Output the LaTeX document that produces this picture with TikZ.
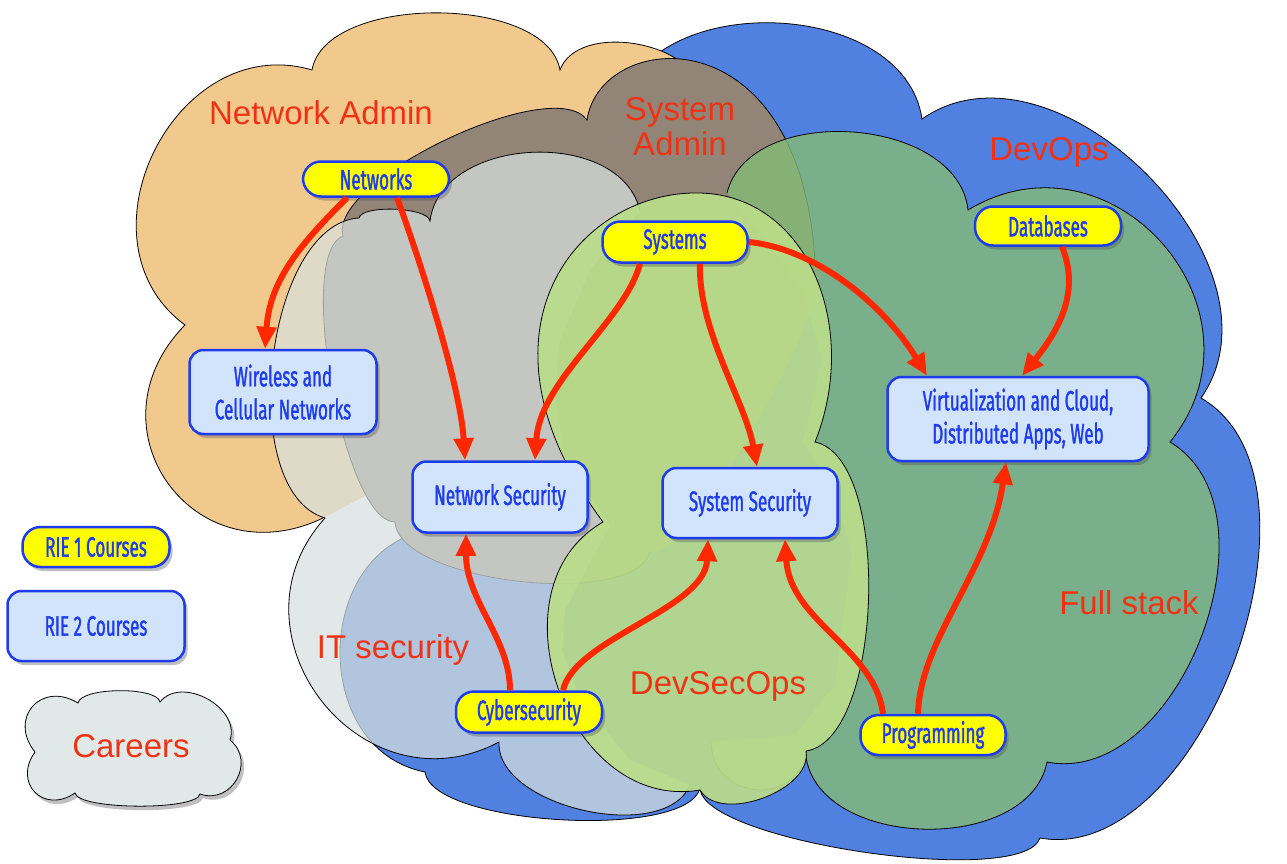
\documentclass[tikz,border=0pt]{standalone}
\usepackage{fontspec}
\usepackage{tikz}
\usetikzlibrary{arrows.meta,shadows}
\newfontfamily\coursefont{Fira Sans}[FakeStretch=0.61,FakeBold=1.2]
\newfontfamily\careerfont{Liberation Sans}
\definecolor{rieblue}{RGB}{30,60,235}
\definecolor{boxblue}{RGB}{210,228,252}
\definecolor{rieyellow}{RGB}{255,255,0}
\definecolor{careerred}{RGB}{240,50,20}
\definecolor{arrowred}{RGB}{255,40,0}
\definecolor{netadmin}{RGB}{242,201,140}
\definecolor{sysadmin}{RGB}{146,133,119}
\definecolor{devops}{RGB}{80,128,224}
\definecolor{fullstack}{RGB}{133,187,119}
\definecolor{itsec}{RGB}{216,224,223}
\definecolor{devsecops}{RGB}{186,221,138}
\definecolor{legendcloud}{RGB}{225,233,232}
\tikzset{
	cloudline/.style={draw=black,line width=0.8pt},
	puff/.style={bend left=80,looseness=#1},
	puff/.default=1,
	boxshadow/.style={drop shadow={shadow xshift=3pt,shadow yshift=-4pt,opacity=0.35,fill=black!70}},
	rieone/.style={draw=rieblue,line width=2.5pt,fill=rieyellow,text=rieblue,rounded corners=18pt,
		minimum width=146pt,minimum height=40pt,inner sep=0pt,boxshadow,
		font=\coursefont\fontsize{28}{33}\selectfont},
	rietwo/.style={draw=rieblue,line width=2.5pt,fill=boxblue,text=rieblue,rounded corners=14pt,
		align=center,inner sep=0pt,boxshadow,font=\coursefont\fontsize{28}{33}\selectfont},
	careerlbl/.style={text=careerred,align=center,font=\careerfont\fontsize{33}{35}\selectfont},
	link/.style={draw=arrowred,line width=6pt,-{Triangle[length=22pt,width=19pt]}}
}
\begin{document}
\begin{tikzpicture}[x=1pt,y=-1pt]
	\useasboundingbox (0,0) rectangle (1287,864);
	\fill[white] (0,0) rectangle (1287,864);

	%career clouds, back to front
	\draw[cloudline,fill=devops] (620,110) to[puff=1.05] (922,119) to[puff=1.05] (1201,398)
		to[puff=0.9] (1040,838) to[puff=0.4] (700,788) to[puff=0.5] (425,772)
		to[puff=1.25] (430,530) -- (620,110) -- cycle;						%DevOps
	\fill[netadmin] (185,325) to[puff=1.28] (312,70) to[puff=0.8] (560,70)
		to[puff=0.95] (700,95) -- (560,330) -- (395,480) -- (323,518)
		to[puff=1.55] (185,325) -- cycle;									%Network Admin
	\draw[cloudline] (323,518) to[puff=1.55] (185,325) to[puff=1.28] (312,70)
		to[puff=0.8] (560,70) to[puff=0.95] (700,95);
	\fill[sysadmin] (343,236) to[puff=0.55] (587,120)
		.. controls (600,30) and (800,10) .. (815,262) to[puff=0.3] (650,552)
		to[puff=0.6] (395,522) to[puff=0.45] (343,236) -- cycle;			%System Admin
	\draw[cloudline] (650,552) to[puff=0.6] (395,522) to[puff=0.45] (343,236)
		to[puff=0.55] (587,120) .. controls (600,30) and (800,10) .. (815,262);
	\fill[fullstack,fill opacity=0.8] (727,193) to[puff=1.0] (968,210)
		to[puff=1.4] (1170,442) to[puff=1.0] (1047,762) to[puff=1.0] (806,757)
		to[puff=1.45] (711,742) -- (795,735) -- (835,685) -- (852,552) -- (832,488)
		-- (803,442) -- (822,360) -- (805,298) -- (765,238) -- (727,193) -- cycle;	%Full stack
	\draw[cloudline] (727,193) to[puff=1.0] (968,210) to[puff=1.4] (1170,442)
		to[puff=1.0] (1047,762) to[puff=1.0] (806,757) to[puff=1.45] (711,742);
	\fill[itsec,fill opacity=0.72] (325,518) to[puff=0.8] (359,218)
		to[puff=0.5] (430,221) to[puff=1.05] (640,211) -- (590,270) -- (560,340)
		-- (555,395) -- (565,460) -- (610,525) -- (565,610) -- (562,650) -- (580,700)
		-- (630,760) -- (690,785)
		to[puff=0.85] (499,742) to[puff=1.4] (325,518) -- cycle;			%IT security
	\draw[cloudline] (690,785) to[puff=0.85] (499,742) to[puff=1.4] (325,518)
		to[puff=0.8] (359,218) to[puff=0.5] (430,221) to[puff=1.05] (640,211);
	\draw[cloudline,fill=devsecops,fill opacity=0.92] (603,522)
		.. controls (460,330) and (580,190) .. (700,193)
		.. controls (810,196) and (860,330) .. (815,442)
		to[puff=0.65] (806,751) to[puff=0.9] (700,790) to[puff=1.2] (603,522) -- cycle;	%DevSecOps

	%legend cloud
	\draw[cloudline,fill=legendcloud,boxshadow] (35,752) to[puff=1.7] (78,703) to[puff=0.5] (160,702)
		to[puff=1.1] (230,740) to[puff=1.4] (200,794) to[puff=0.35] (75,793)
		to[puff=1.7] (35,752) -- cycle;

	%career names
	\node[careerlbl] (lblnet)     at (321,113)  {Network Admin};
	\node[careerlbl] (lblsys)     at (680,127)  {System\\Admin};
	\node[careerlbl] (lbldevops)  at (1049,152) {DevOps};
	\node[careerlbl] (lblfull)    at (1129,603) {Full stack};
	\node[careerlbl] (lblit)      at (393,650)  {IT security};
	\node[careerlbl] (lbldso)     at (718,686)  {DevSecOps};
	\node[careerlbl] (lblcareers) at (131,746)  {Careers};

	%courses
	\node[rieone,minimum height=35pt] (net) at (376,179) {Networks};
	\node[rietwo,minimum width=187pt,minimum height=84pt] (wless) at (283,392) {Wireless and\\Cellular Networks};
	\node[rietwo,minimum width=175pt,minimum height=71pt] (netsec) at (500,497) {Network Security};
	\node[rieone,minimum width=145pt,minimum height=41pt] (sys) at (675,242) {Systems};
	\node[rietwo,minimum width=175pt,minimum height=70pt] (syssec) at (750,503) {System Security};
	\node[rieone,minimum height=39pt] (db) at (1048,226) {Databases};
	\node[rietwo,minimum width=261pt,minimum height=84pt] (virt) at (1018,419) {Virtualization and Cloud,\\Distributed Apps, Web};
	\node[rieone,minimum height=41pt] (cyber) at (529,712) {Cybersecurity};
	\node[rieone,minimum width=145pt] (prog) at (933,735) {Programming};

	%legend
	\node[rieone,minimum width=147pt] (legA) at (96,547) {RIE 1 Courses};
	\node[rietwo,minimum width=177pt,minimum height=70pt] (legB) at (96,626) {RIE 2 Courses};

	%prerequisites
	\draw[link] ([xshift=-29pt]net.south) .. controls +(-45,45) and +(5,-70) .. ([xshift=-18pt]wless.north);
	\draw[link] ([xshift=21pt]net.south) .. controls +(15,40) and +(-5,-80) .. ([xshift=-35pt]netsec.north);
	\draw[link] ([xshift=-35pt]sys.south) .. controls +(-15,57) and +(5,-80) .. ([xshift=35pt]netsec.north);
	\draw[link] ([xshift=25pt]sys.south) .. controls +(-2,67) and +(-12,-66) .. ([xshift=7pt]syssec.north);
	\draw[link] (sys.east) .. controls +(62,6) and +(-47,-77) .. ([xshift=-91pt]virt.north);
	\draw[link] ([xshift=14pt]db.south) .. controls +(18,44) and +(38,-47) .. ([xshift=4pt]virt.north);
	\draw[link] ([xshift=-19pt]cyber.north) .. controls +(0,-52) and +(0,67) .. ([xshift=-34pt]netsec.south);
	\draw[link] ([xshift=34pt]cyber.north) .. controls +(12,-52) and +(-3,70) .. ([xshift=-42pt]syssec.south);
	\draw[link] ([xshift=-50pt]prog.north) .. controls +(-8,-65) and +(5,82) .. ([xshift=35pt]syssec.south);
	\draw[link] ([xshift=-15pt]prog.north) .. controls +(2,-75) and +(-16,108) .. ([xshift=-12pt]virt.south);
\end{tikzpicture}
\end{document}
